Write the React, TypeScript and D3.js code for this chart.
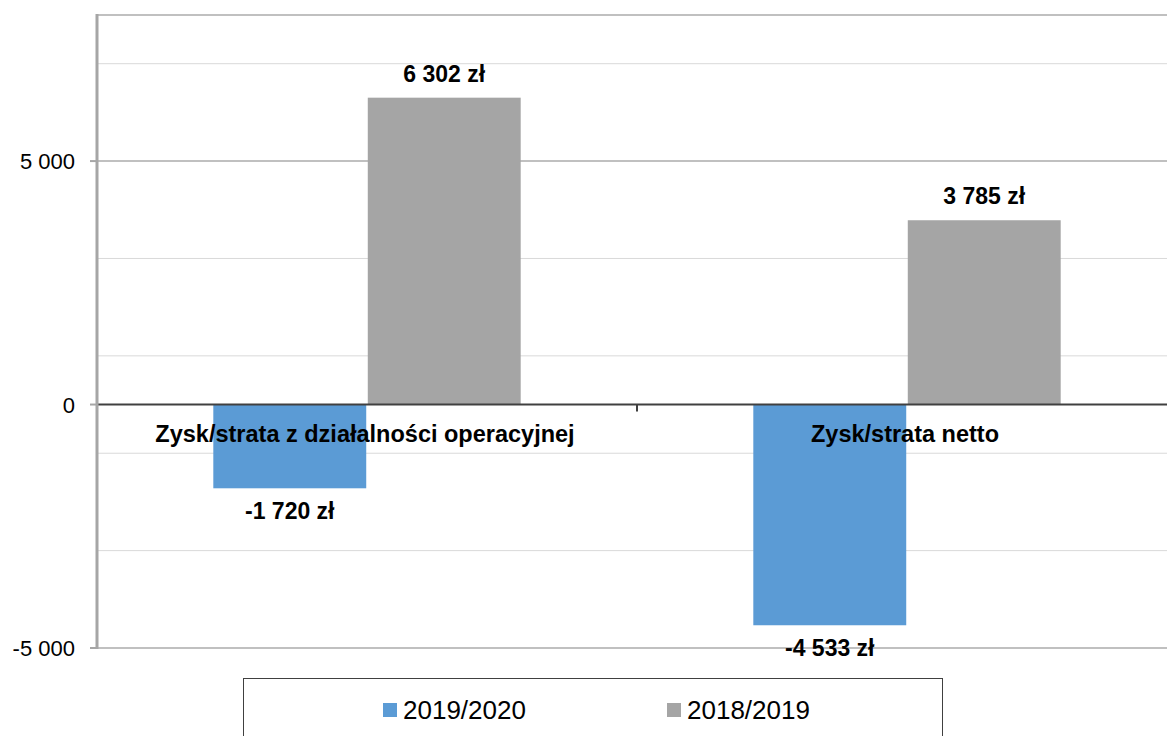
import React, { useEffect } from 'react';
import { scaleBand, scaleLinear, formatLocale } from 'd3';

const categories = ['Zysk/strata z działalności operacyjnej', 'Zysk/strata netto'];
const seriesNames = ['2019/2020', '2018/2019'];
const values20192020 = [-1720, -4533];
const values20182019 = [6302, 3785];
const majorTicks = [-5000, 0, 5000];
const minorTicks = [-3000, -1000, 1000, 3000, 7000];
const tickLabels = ['-5 000', '0', '5 000'];
const colors = ['#5b9bd5', '#a5a5a5'];

const width = 1167;
const height = 736;
const font = '"Liberation Sans", Arial, sans-serif';

const pl = formatLocale({
  decimal: ',',
  thousands: ' ',
  grouping: [3],
  currency: ['', ' zł'],
  minus: '-'
});
const fmt = (v: number) => pl.format(',')(v) + ' zł';

const App = () => {
  useEffect(() => {
    document.body.style.margin = '0';
    document.body.style.overflow = 'hidden';
  }, []);

  const y = scaleLinear().domain([-5000, 8000]).range([648, 15]);
  const x0 = scaleBand<string>().domain(categories).range([97, 1177]).padding(0);
  const x1 = scaleBand<string>()
    .domain(seriesNames)
    .range([0, x0.bandwidth()])
    .paddingInner(0.01)
    .paddingOuter(0.753);

  const seriesValues = [values20192020, values20182019];
  const left = 97;
  const right = width;

  return (
    <svg width={width} height={height} style={{ display: 'block' }}>
      <rect width={width} height={height} fill="#fff" />
      {/* gridlines */}
      {minorTicks.map(t => (
        <line key={'mi' + t} x1={left} x2={right} y1={y(t)} y2={y(t)} stroke="#d9d9d9" strokeWidth={1} />
      ))}
      {[...majorTicks.filter(t => t !== 0), 8000].map(t => (
        <line key={'ma' + t} x1={left} x2={right} y1={y(t)} y2={y(t)} stroke="#c0c0c0" strokeWidth={2} />
      ))}

      {/* bars */}
      {seriesNames.map((s, si) =>
        categories.map((c, ci) => {
          const v = seriesValues[si][ci];
          const bx = (x0(c) as number) + (x1(s) as number);
          const top = y(Math.max(0, v));
          const h = Math.abs(y(v) - y(0));
          return <rect key={s + c} x={bx} y={top} width={x1.bandwidth()} height={h} fill={colors[si]} />;
        })
      )}

      {/* zero axis */}
      <line x1={left} x2={right} y1={y(0)} y2={y(0)} stroke="#404040" strokeWidth={2} />
      {[...categories.map(c => x0(c) as number), 1177].map((cx, i) => (
        <line key={'ct' + i} x1={cx} x2={cx} y1={y(0)} y2={y(0) + 7} stroke="#404040" strokeWidth={2} />
      ))}

      {/* y axis */}
      <line x1={left} x2={left} y1={y(8000) - 1} y2={y(-5000) + 1} stroke="#a6a6a6" strokeWidth={3} />
      {majorTicks.map((t, i) => (
        <g key={'yt' + t}>
          <line x1={left - 7} x2={left} y1={y(t)} y2={y(t)} stroke="#a6a6a6" strokeWidth={2} />
          <text x={75} y={y(t) + 8} textAnchor="end" fontFamily={font} fontSize={22} fill="#000">
            {tickLabels[i]}
          </text>
        </g>
      ))}

      {/* category labels */}
      {categories.map(c => (
        <text
          key={'cl' + c}
          x={(x0(c) as number) + x0.bandwidth() / 2 - 2}
          y={y(0) + 37}
          textAnchor="middle"
          fontFamily={font}
          fontSize={23.5}
          fontWeight="bold"
          fill="#000"
        >
          {c}
        </text>
      ))}

      {/* value labels */}
      {seriesNames.map((s, si) =>
        categories.map((c, ci) => {
          const v = seriesValues[si][ci];
          const cx = (x0(c) as number) + (x1(s) as number) + x1.bandwidth() / 2;
          const ly = v >= 0 ? y(v) - 16 : y(v) + 31;
          return (
            <text
              key={'vl' + s + c}
              x={cx}
              y={ly}
              textAnchor="middle"
              fontFamily={font}
              fontSize={23}
              fontWeight="bold"
              fill="#000"
            >
              {fmt(v)}
            </text>
          );
        })
      )}

      {/* legend */}
      <rect x={243.5} y={678.5} width={699} height={90} fill="#fff" stroke="#404040" strokeWidth={1} />
      {seriesNames.map((s, si) => {
        const lx = si === 0 ? 383 : 667;
        return (
          <g key={'lg' + s}>
            <rect x={lx} y={703} width={14} height={14} fill={colors[si]} />
            <text x={lx + 20} y={719} fontFamily={font} fontSize={26} fill="#000">
              {s}
            </text>
          </g>
        );
      })}
    </svg>
  );
};

export default App;
